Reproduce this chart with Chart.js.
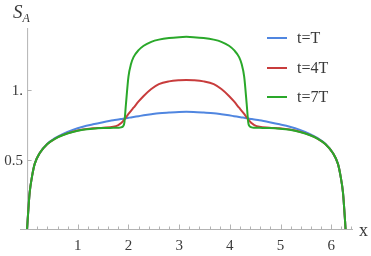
<!DOCTYPE html>
<html>
<head>
<meta charset="utf-8">
<script src="https://cdn.jsdelivr.net/npm/chart.js@4/dist/chart.umd.min.js"></script>
<style>
  html, body { margin: 0; padding: 0; background: #fff; }
  #wrap { width: 371px; height: 256px; position: relative; font-family: "Liberation Serif", "Times New Roman", "DejaVu Serif", serif; color: #3a3a3a; }
  #wrap canvas { position: absolute; left: 0; top: 0; }
  .lbl { position: absolute; white-space: nowrap; line-height: 1; }
  .xt { font-size: 15px; transform: translate(-50%, -50%); }
  .yt { font-size: 15px; transform: translate(-100%, -50%); }
  .lg { font-size: 16px; transform: translate(0, -50%); }
  .ax { font-size: 18px; transform: translate(0, -50%); }
  .sa { font-size: 19px; font-style: italic; }
  .sa sub { font-size: 12px; vertical-align: -4px; }
</style>
</head>
<body>
<div id="wrap"><canvas id="chart" width="371" height="256"></canvas></div>
<script>
// x positions (0 .. 2*pi)
const xs = [0, 0.01, 0.025, 0.05, 0.1, 0.15, 0.25, 0.4, 0.55, 0.7, 0.9, 1.1, 1.3, 1.5, 1.7, 1.8, 1.85, 1.9, 1.92, 1.95, 2.0, 2.05, 2.1, 2.2, 2.3, 2.45, 2.6, 2.8, 3.0,
  3.142,
  3.283, 3.483, 3.683, 3.833, 3.983, 4.083, 4.183, 4.233, 4.283, 4.333, 4.363, 4.383, 4.433, 4.483, 4.583, 4.783, 4.983, 5.183, 5.383, 5.583, 5.733, 5.883, 6.033, 6.133, 6.183, 6.233, 6.258, 6.273, 6.283];

const sT = [0, 0.06, 0.14, 0.26, 0.385, 0.47, 0.548, 0.615, 0.655, 0.685, 0.715, 0.738, 0.755, 0.77, 0.784, 0.79, 0.793, 0.796, 0.797, 0.799, 0.802, 0.805, 0.808, 0.814, 0.82, 0.828, 0.835, 0.84, 0.844,
  0.845,
  0.844, 0.84, 0.835, 0.828, 0.82, 0.814, 0.808, 0.805, 0.802, 0.799, 0.797, 0.796, 0.793, 0.79, 0.784, 0.77, 0.755, 0.738, 0.715, 0.685, 0.655, 0.615, 0.548, 0.47, 0.385, 0.26, 0.14, 0.06, 0];

const s4T = [0, 0.06, 0.14, 0.26, 0.385, 0.47, 0.548, 0.613, 0.651, 0.677, 0.701, 0.717, 0.726, 0.731, 0.738, 0.75, 0.762, 0.782, 0.79, 0.805, 0.83, 0.853, 0.875, 0.92, 0.96, 1.01, 1.045, 1.065, 1.073,
  1.075,
  1.073, 1.065, 1.045, 1.01, 0.96, 0.92, 0.875, 0.853, 0.83, 0.805, 0.79, 0.782, 0.762, 0.75, 0.738, 0.731, 0.726, 0.717, 0.701, 0.677, 0.651, 0.613, 0.548, 0.47, 0.385, 0.26, 0.14, 0.06, 0];

const s7T = [0, 0.06, 0.14, 0.26, 0.385, 0.47, 0.548, 0.613, 0.651, 0.676, 0.700, 0.716, 0.724, 0.728, 0.730, 0.731, 0.733, 0.745, 0.77, 0.9, 1.1, 1.19, 1.24, 1.29, 1.322, 1.35, 1.366, 1.378, 1.384,
  1.386,
  1.384, 1.378, 1.366, 1.35, 1.322, 1.29, 1.24, 1.19, 1.1, 0.9, 0.77, 0.745, 0.733, 0.731, 0.730, 0.728, 0.724, 0.716, 0.700, 0.676, 0.651, 0.613, 0.548, 0.47, 0.385, 0.26, 0.14, 0.06, 0];

const seriesLabels = ['t=T', 't=4T', 't=7T'];
const seriesColors = ['#5086e0', '#c83c3c', '#2aa82a'];

const xTicks = [1, 2, 3, 4, 5, 6];
const xMinorStep = 0.2;
const yTicks = [0.5, 1];
const yTickLabels = ['0.5', '1.'];

const toPoints = ys => xs.map((x, i) => ({ x: x, y: ys[i] }));

const AXIS = '#b3b3b3';
const wrap = document.getElementById('wrap');

function addLabel(cls, html, left, top) {
    const el = document.createElement('div');
    el.className = 'lbl ' + cls;
    el.innerHTML = html;
    el.style.left = left + 'px';
    el.style.top = top + 'px';
    wrap.appendChild(el);
}

// axis lines and tick marks on the canvas, all text as html labels
const decorations = {
    id: 'decorations',
    beforeDatasetsDraw(chart) {
        const { ctx, chartArea } = chart;
        const xs_ = chart.scales.x, ys_ = chart.scales.y;
        const y0 = ys_.getPixelForValue(0);
        const x0 = xs_.getPixelForValue(0);
        ctx.save();
        ctx.strokeStyle = AXIS;
        ctx.lineWidth = 1;
        ctx.beginPath();
        ctx.moveTo(chartArea.left, y0 + 0.5);
        ctx.lineTo(chartArea.right, y0 + 0.5);
        ctx.moveTo(x0 + 0.5, y0);
        ctx.lineTo(x0 + 0.5, chartArea.top);
        for (let v = xMinorStep; v < xs_.max; v += xMinorStep) {
            const px = Math.round(xs_.getPixelForValue(v)) + 0.5;
            const isMajor = Math.abs(v - Math.round(v)) < 1e-6;
            ctx.moveTo(px, y0);
            ctx.lineTo(px, y0 - (isMajor ? 4.5 : 2.5));
        }
        yTicks.forEach(v => {
            const py = Math.round(ys_.getPixelForValue(v)) + 0.5;
            ctx.moveTo(x0, py);
            ctx.lineTo(x0 + 4.5, py);
        });
        ctx.stroke();
        ctx.restore();
    },
    afterDraw(chart) {
        const { ctx, chartArea } = chart;
        const rows = [38, 68, 97];
        ctx.save();
        seriesLabels.forEach((lab, i) => {
            ctx.strokeStyle = seriesColors[i];
            ctx.lineWidth = 2;
            ctx.beginPath();
            ctx.moveTo(267, rows[i]);
            ctx.lineTo(287, rows[i]);
            ctx.stroke();
        });
        ctx.restore();

        if (chart.$labelsDone) return;
        chart.$labelsDone = true;
        const xs_ = chart.scales.x, ys_ = chart.scales.y;
        const y0 = ys_.getPixelForValue(0);
        const x0 = xs_.getPixelForValue(0);
        xTicks.forEach(v => addLabel('xt', String(v), xs_.getPixelForValue(v), y0 + 16));
        yTicks.forEach((v, i) => addLabel('yt', yTickLabels[i], x0 - 4, ys_.getPixelForValue(v)));
        seriesLabels.forEach((lab, i) => addLabel('lg', lab, 297, rows[i]));
        addLabel('ax', 'x', chartArea.right + 6, y0 + 1);
        addLabel('sa', 'S<sub>A</sub>', 13, 2);
    }
};

new Chart(document.getElementById('chart'), {
    type: 'line',
    data: {
        datasets: [
            { label: seriesLabels[0], data: toPoints(sT), borderColor: seriesColors[0], order: 2 },
            { label: seriesLabels[1], data: toPoints(s4T), borderColor: seriesColors[1], order: 1 },
            { label: seriesLabels[2], data: toPoints(s7T), borderColor: seriesColors[2], order: 0 }
        ]
    },
    options: {
        responsive: false,
        animation: false,
        devicePixelRatio: 1,
        layout: { padding: { left: 20, right: 18, top: 28, bottom: 27 } },
        elements: {
            line: { borderWidth: 2, cubicInterpolationMode: 'monotone', fill: false },
            point: { radius: 0 }
        },
        scales: {
            x: { type: 'linear', min: -0.14, max: 6.43, display: false },
            y: { type: 'linear', min: 0, max: 1.45, display: false }
        },
        plugins: {
            legend: { display: false },
            tooltip: { enabled: false }
        }
    },
    plugins: [decorations]
});
</script>
</body>
</html>
